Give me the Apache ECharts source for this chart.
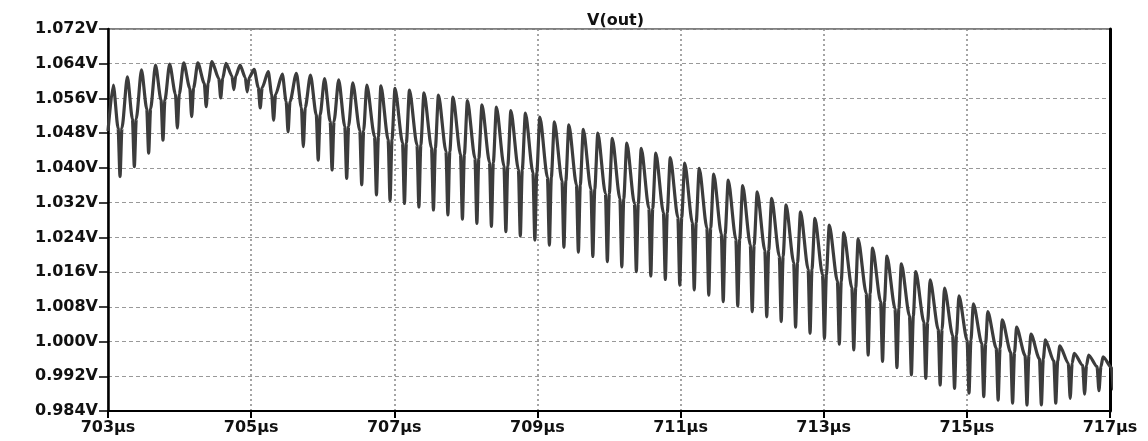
<!DOCTYPE html>
<html>
<head>
<meta charset="utf-8">
<script src="https://cdn.jsdelivr.net/npm/echarts@6/dist/echarts.min.js"></script>
<style>
  html, body { margin: 0; padding: 0; background: #ffffff; }
  #chart { width: 1148px; height: 441px; }
</style>
</head>
<body>
<div id="chart"></div>
<script>
// ---- data ----
const title = 'V(out)';
const xTickLabels = ['703µs','705µs','707µs','709µs','711µs','713µs','715µs','717µs'];
const yTickLabels = ['0.984V','0.992V','1.000V','1.008V','1.016V','1.024V','1.032V','1.040V','1.048V','1.056V','1.064V','1.072V'];
const startPoint = [703.0, 1.0485];          // µs, V
const peakTimes = [
  703.074,703.271,703.468,703.664,703.861,704.058,704.255,704.452,704.648,704.845,
  705.042,705.239,705.436,705.632,705.829,706.026,706.223,706.420,706.616,706.813,
  707.010,707.212,707.415,707.617,707.820,708.022,708.225,708.427,708.629,708.832,
  709.034,709.237,709.439,709.641,709.844,710.046,710.249,710.451,710.654,710.856,
  711.058,711.261,711.463,711.666,711.868,712.071,712.273,712.474,712.676,712.877,
  713.078,713.280,713.481,713.682,713.883,714.085,714.286,714.487,714.688,714.890,
  715.091,715.292,715.494,715.695,715.896,716.097,716.299,716.500,716.701,716.903
];
const peakV = [
  1.0591,1.0610,1.0626,1.0637,1.0639,1.0642,1.0642,1.0645,1.0641,1.0637,
  1.0627,1.0622,1.0616,1.0618,1.0614,1.0606,1.0603,1.0596,1.0591,1.0589,
  1.0583,1.0579,1.0573,1.0568,1.0563,1.0555,1.0545,1.0540,1.0532,1.0526,
  1.0517,1.0506,1.0499,1.0489,1.0480,1.0468,1.0457,1.0445,1.0434,1.0424,
  1.0411,1.0399,1.0386,1.0372,1.0359,1.0345,1.0330,1.0315,1.0299,1.0284,
  1.0268,1.0251,1.0236,1.0215,1.0197,1.0179,1.0161,1.0142,1.0123,1.0105,
  1.0087,1.0069,1.0050,1.0033,1.0017,1.0004,0.9990,0.9973,0.9969,0.9965
];
const shoulderV = [
  1.0492,1.0513,1.0536,1.0556,1.0570,1.0584,1.0595,1.0606,1.0612,1.0608,
  1.0585,1.0569,1.0553,1.0539,1.0522,1.0507,1.0496,1.0486,1.0472,1.0465,
  1.0458,1.0453,1.0446,1.0438,1.0431,1.0422,1.0413,1.0405,1.0396,1.0389,
  1.0378,1.0370,1.0361,1.0351,1.0341,1.0329,1.0318,1.0307,1.0297,1.0286,
  1.0274,1.0262,1.0248,1.0236,1.0223,1.0210,1.0197,1.0182,1.0167,1.0154,
  1.0139,1.0124,1.0111,1.0092,1.0076,1.0059,1.0045,1.0028,1.0014,1.0003,
  0.9995,0.9985,0.9975,0.9968,0.9960,0.9955,0.9950,0.9945,0.9942,0.9940
];
const troughV = [
  1.0380,1.0403,1.0434,1.0464,1.0492,1.0518,1.0541,1.0561,1.0580,1.0575,
  1.0538,1.0510,1.0483,1.0449,1.0418,1.0395,1.0376,1.0361,1.0338,1.0325,
  1.0318,1.0310,1.0303,1.0292,1.0282,1.0272,1.0265,1.0253,1.0243,1.0234,
  1.0222,1.0217,1.0206,1.0196,1.0184,1.0172,1.0161,1.0151,1.0143,1.0130,
  1.0119,1.0107,1.0092,1.0082,1.0069,1.0057,1.0046,1.0033,1.0019,1.0007,
  0.9994,0.9981,0.9969,0.9954,0.9940,0.9923,0.9915,0.9900,0.9892,0.9881,
  0.9873,0.9865,0.9858,0.9854,0.9854,0.9858,0.9869,0.9879,0.9887,0.9890
];
const troughLag = [   // µs from each peak to the following dip
  0.094,0.097,0.100,0.104,0.108,0.111,0.117,0.123,0.110,0.100,
  0.085,0.075,0.080,0.097,0.108,0.105,0.112,0.125,0.135,0.128,
  0.132,0.132,0.132,0.132,0.132,0.132,0.132,0.132,0.132,0.132,
  0.133,0.133,0.133,0.133,0.133,0.133,0.133,0.133,0.133,0.133,
  0.133,0.133,0.133,0.133,0.133,0.133,0.133,0.133,0.133,0.133,
  0.140,0.140,0.140,0.140,0.140,0.140,0.140,0.140,0.140,0.140,
  0.145,0.145,0.145,0.145,0.145,0.145,0.145,0.145,0.145,0.145
];
const spikeHalfWidth = 0.027; // µs
const tStart = 703, tEnd = 717, tStep = 2;
const vMinMV = 984, vMaxMV = 1072, vStepMV = 8;

// ---- build series (x as µs offset from 703, y in mV) ----
const pts = [[startPoint[0] - tStart, startPoint[1] * 1000]];
for (let i = 0; i < peakTimes.length; i++) {
  const t = peakTimes[i] - tStart;
  const tl = t + troughLag[i];
  pts.push([t, peakV[i] * 1000]);
  pts.push([tl - spikeHalfWidth, shoulderV[i] * 1000]);
  pts.push([tl, troughV[i] * 1000]);
  pts.push([tl + spikeHalfWidth, shoulderV[i] * 1000]);
}

const labelFont = { fontFamily: 'DejaVu Sans', fontWeight: 'bold', fontSize: 16, color: '#111' };
const chart = echarts.init(document.getElementById('chart'));
chart.setOption({
  animation: false,
  backgroundColor: '#ffffff',
  title: {
    text: title, left: 582, top: 8,
    textStyle: { fontFamily: 'DejaVu Sans', fontWeight: 'bold', fontSize: 16, color: '#111' }
  },
  grid: { left: 108, right: 38, top: 29, bottom: 30, show: true, borderColor: '#000', borderWidth: 1, backgroundColor: '#fff' },
  xAxis: {
    type: 'value', min: 0, max: tEnd - tStart, interval: tStep,
    axisLine: { show: true, lineStyle: { color: '#000', width: 2 } },
    axisTick: { show: true, length: 7, lineStyle: { color: '#000', width: 2 } },
    axisLabel: Object.assign({ margin: 9, formatter: (v) => xTickLabels[Math.round(v / tStep)] }, labelFont),
    splitLine: { show: true, lineStyle: { color: '#888', width: 1.5, type: [2, 3] } }
  },
  yAxis: [{
    type: 'value', min: vMinMV, max: vMaxMV, interval: vStepMV,
    axisLine: { show: true, lineStyle: { color: '#000', width: 2.5 } },
    axisTick: { show: true, length: 9, lineStyle: { color: '#000', width: 1.5 } },
    axisLabel: Object.assign({ margin: 10, formatter: (v) => yTickLabels[Math.round((v - vMinMV) / vStepMV)] }, labelFont),
    splitLine: { show: true, lineStyle: { color: '#999', width: 1, type: [4, 3] } }
  }, {
    type: 'value', min: vMinMV, max: vMaxMV, interval: vStepMV, position: 'right',
    axisLine: { show: true, lineStyle: { color: '#000', width: 3 } },
    axisTick: { show: false }, axisLabel: { show: false }, splitLine: { show: false }
  }],
  series: [{
    type: 'line', data: pts, showSymbol: false, smooth: 0.25, smoothMonotone: 'x',
    clip: true,
    lineStyle: { color: '#3c3c3c', width: 3.2 },
    silent: true
  }]
});
</script>
</body>
</html>
